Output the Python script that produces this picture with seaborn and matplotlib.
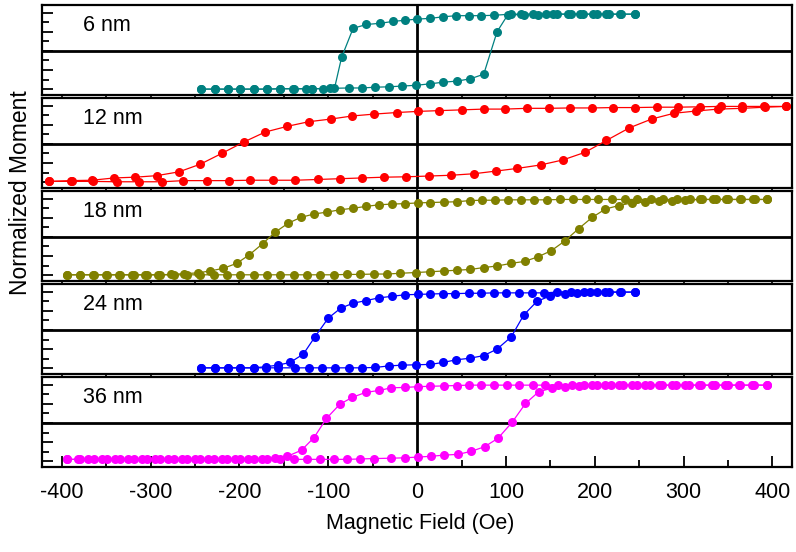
#!/usr/bin/env python3
#===============================================================================
# plot hysteresis loops for several film thicknesses
#===============================================================================

# Imports ======================================================================

import matplotlib
matplotlib.use('Agg')
import matplotlib.pyplot as plt
from matplotlib.ticker import MultipleLocator
import seaborn as sns


# Data =========================================================================

labels = ['6 nm', '12 nm', '18 nm', '24 nm', '36 nm']
colors = ['#008080', '#ff0000', '#808000', '#0000ff', '#ff00ff']

# 6 nm
down_h_6 = [245, 230, 216, 202, 187, 173, 158, 145, 130, 117, 106, 86, 72, 58,
            44, 29, 15, 0, -14, -27, -42, -57, -72, -85, -93, -106, -118, -125,
            -140, -154, -169, -184, -199, -213, -228, -243]
down_m_6 = [0.96, 0.96, 0.96, 0.96, 0.96, 0.96, 0.96, 0.96, 0.96, 0.96, 0.96,
            0.93, 0.92, 0.92, 0.92, 0.89, 0.85, 0.83, 0.80, 0.77, 0.72, 0.69,
            0.59, -0.17, -0.98, -0.99, -0.99, -0.99, -0.99, -0.99, -1.0, -1.0,
            -1.0, -1.0, -1.0, -1.0]
up_h_6 = [-243, -228, -213, -199, -184, -169, -154, -139, -118, -98, -77, -62,
          -47, -32, -17, -1, 15, 29, 45, 60, 75, 90, 102, 120, 136, 153, 170,
          183, 198, 213, 228, 245]
up_m_6 = [-1.0, -1.0, -1.0, -1.0, -1.0, -1.0, -0.99, -0.99, -0.99, -0.98,
          -0.97, -0.97, -0.95, -0.94, -0.92, -0.90, -0.86, -0.82, -0.79, -0.73,
          -0.61, 0.50, 0.94, 0.95, 0.95, 0.96, 0.96, 0.96, 0.96, 0.96, 0.96,
          0.96]

# 12 nm
down_h_12 = [415, 391, 366, 342, 318, 294, 270, 245, 221, 197, 172, 148, 124,
             99, 75, 50, 25, 1, -23, -48, -73, -97, -122, -146, -171, -195,
             -220, -244, -268, -293, -317, -341, -366, -390, -414]
down_m_12 = [0.98, 0.98, 0.98, 0.98, 0.97, 0.96, 0.96, 0.95, 0.95, 0.94, 0.94,
             0.93, 0.93, 0.91, 0.91, 0.89, 0.87, 0.85, 0.82, 0.78, 0.73, 0.65,
             0.58, 0.46, 0.31, 0.05, -0.25, -0.53, -0.73, -0.83, -0.87, -0.89,
             -0.95, -0.96, -0.98]
up_h_12 = [-414, -389, -365, -338, -313, -287, -263, -237, -212, -188, -162,
           -137, -112, -87, -62, -37, -12, 13, 38, 64, 89, 113, 139, 164, 189,
           213, 239, 264, 289, 314, 339, 366, 392, 415]
up_m_12 = [-0.98, -0.98, -0.98, -0.99, -0.99, -0.99, -0.96, -0.96, -0.96,
           -0.95, -0.95, -0.95, -0.93, -0.91, -0.89, -0.87, -0.86, -0.84,
           -0.82, -0.78, -0.71, -0.64, -0.55, -0.42, -0.22, 0.09, 0.42, 0.65,
           0.80, 0.86, 0.91, 0.93, 0.96, 0.98]

# 18 nm
down_h_18 = [394, 380, 365, 350, 336, 321, 307, 292, 277, 263, 248, 234, 219,
             204, 190, 175, 161, 146, 132, 117, 102, 88, 73, 59, 45, 30, 15, 1,
             -14, -28, -43, -57, -72, -87, -101, -116, -131, -145, -160, -174,
             -189, -203, -218, -233, -247, -262, -277, -292, -306, -321, -336,
             -350, -365, -380, -394]
down_m_18 = [0.98, 0.98, 0.98, 0.98, 0.98, 0.98, 0.98, 0.98, 0.98, 0.98, 0.98,
             0.98, 0.98, 0.98, 0.98, 0.98, 0.98, 0.97, 0.97, 0.97, 0.97, 0.96,
             0.96, 0.95, 0.92, 0.91, 0.90, 0.89, 0.87, 0.86, 0.84, 0.80, 0.75,
             0.71, 0.65, 0.60, 0.51, 0.36, 0.12, -0.18, -0.47, -0.69, -0.82,
             -0.89, -0.94, -0.96, -0.98, -0.99, -0.99, -0.99, -0.99, -0.99,
             -0.99, -0.99, -0.99]
up_h_18 = [-394, -379, -364, -349, -334, -319, -304, -289, -274, -259, -244,
           -229, -214, -199, -184, -169, -154, -139, -124, -109, -94, -79, -64,
           -49, -34, -19, -1, 15, 30, 45, 60, 75, 90, 106, 121, 136, 151, 166,
           182, 197, 212, 227, 242, 257, 272, 287, 302, 318, 333, 348, 363, 378,
           394]
up_m_18 = [-0.99, -0.99, -0.99, -0.99, -0.99, -0.99, -0.99, -0.99, -0.99,
           -0.99, -0.99, -0.99, -0.99, -0.99, -0.99, -0.99, -0.99, -0.99, -0.99,
           -0.99, -0.99, -0.98, -0.98, -0.97, -0.97, -0.95, -0.93, -0.91, -0.89,
           -0.87, -0.85, -0.80, -0.76, -0.69, -0.64, -0.52, -0.36, -0.11, 0.22,
           0.51, 0.73, 0.82, 0.89, 0.91, 0.93, 0.95, 0.96, 0.98, 0.98, 0.98,
           0.98, 0.98, 0.98]

# 24 nm
down_h_24 = [245, 230, 216, 202, 188, 173, 158, 143, 129, 115, 100, 86, 72, 58,
             43, 29, 15, 1, -14, -28, -43, -57, -72, -86, -100, -115, -128,
             -143, -157, -170, -184, -199, -213, -228, -243]
down_m_24 = [0.99, 0.99, 0.99, 0.99, 0.99, 0.99, 0.99, 0.97, 0.97, 0.97, 0.97,
             0.97, 0.96, 0.96, 0.95, 0.95, 0.94, 0.93, 0.92, 0.88, 0.84, 0.77,
             0.70, 0.57, 0.31, -0.18, -0.63, -0.85, -0.92, -0.96, -0.99, -0.99,
             -0.99, -0.99, -0.99]
up_h_24 = [-243, -228, -213, -199, -184, -170, -157, -138, -122, -107, -92, -77,
           -62, -47, -32, -17, -1, 15, 29, 44, 59, 75, 90, 106, 120, 135, 150,
           166, 180, 195, 212, 228, 245]
up_m_24 = [-0.99, -0.99, -0.99, -0.99, -0.99, -0.99, -0.99, -0.99, -0.99,
           -0.99, -0.99, -0.99, -0.99, -0.98, -0.94, -0.92, -0.91, -0.90, -0.85,
           -0.78, -0.74, -0.67, -0.50, -0.18, 0.39, 0.75, 0.89, 0.95, 0.97, 0.98,
           0.99, 0.99, 0.99]

# 36 nm
down_h_36 = [394, 379, 364, 350, 335, 320, 306, 291, 276, 262, 247, 232, 218,
             203, 188, 174, 159, 144, 130, 115, 101, 86, 72, 58, 45, 30, 15, 1,
             -14, -29, -43, -58, -73, -87, -102, -116, -130, -146, -160, -175,
             -190, -205, -220, -235, -250, -265, -280, -295, -310, -325, -340,
             -355, -370, -382, -394]
down_m_36 = [0.99, 0.99, 0.99, 0.99, 0.99, 0.99, 0.99, 0.99, 0.99, 0.99, 0.99,
             0.99, 0.99, 0.99, 0.99, 0.99, 0.99, 0.99, 0.99, 0.99, 0.99, 0.99,
             0.99, 0.99, 0.98, 0.97, 0.96, 0.95, 0.93, 0.92, 0.85, 0.80, 0.67,
             0.49, 0.12, -0.38, -0.71, -0.87, -0.91, -0.93, -0.94, -0.95, -0.95,
             -0.95, -0.95, -0.95, -0.95, -0.95, -0.95, -0.95, -0.95, -0.95,
             -0.95, -0.95, -0.95]
up_h_36 = [-394, -379, -364, -349, -334, -319, -304, -289, -274, -259, -244,
           -229, -214, -199, -184, -169, -154, -139, -124, -109, -94, -79, -64,
           -49, -29, -14, 1, 16, 30, 46, 61, 76, 91, 107, 122, 137, 152, 167,
           182, 197, 212, 227, 242, 257, 272, 287, 302, 317, 332, 347, 362, 377,
           394]
up_m_36 = [-0.95, -0.95, -0.95, -0.95, -0.95, -0.95, -0.95, -0.95, -0.95,
           -0.95, -0.95, -0.95, -0.95, -0.95, -0.95, -0.95, -0.95, -0.95, -0.95,
           -0.95, -0.95, -0.95, -0.94, -0.93, -0.92, -0.91, -0.89, -0.87, -0.84,
           -0.82, -0.74, -0.62, -0.40, 0.02, 0.51, 0.82, 0.91, 0.93, 0.98, 0.99,
           0.99, 0.99, 0.99, 0.99, 0.99, 0.99, 0.99, 0.99, 0.99, 0.99, 0.99,
           0.99, 0.99]

x_ticks = [-400, -300, -200, -100, 0, 100, 200, 300, 400]


# Functions ====================================================================

def main():
    sns.set_style('ticks')
    plt.rcParams['font.family'] = ['Liberation Sans', 'DejaVu Sans']
    plt.rcParams['text.color'] = 'black'
    plt.rcParams['xtick.color'] = 'black'
    plt.rcParams['ytick.color'] = 'black'
    plt.rcParams['axes.unicode_minus'] = False

    branches = [
        (down_h_6, down_m_6, up_h_6, up_m_6),
        (down_h_12, down_m_12, up_h_12, up_m_12),
        (down_h_18, down_m_18, up_h_18, up_m_18),
        (down_h_24, down_m_24, up_h_24, up_m_24),
        (down_h_36, down_m_36, up_h_36, up_m_36),
    ]

    fig = plt.figure(figsize=(7.96, 5.52), dpi=100)
    gs = fig.add_gridspec(5, 1, left=0.053, right=0.995, top=0.991,
                          bottom=0.154, hspace=0.035)

    n = len(labels)
    for i in range(n):
        ax = fig.add_subplot(gs[i])
        ax.axhline(0, color='black', lw=2.0, zorder=1)
        ax.axvline(0, color='black', lw=2.0, zorder=1)
        dh, dm, uh, um = branches[i]
        for h, m in ((dh, dm), (uh, um)):
            sns.lineplot(x=h, y=m, sort=False, estimator=None, ax=ax,
                         color=colors[i], marker='o', markersize=6.5,
                         markeredgewidth=0, linewidth=0.9, zorder=3)
        ax.set_xlim(-422, 422)
        ax.set_ylim(-1.15, 1.2)
        ax.set_xticks(x_ticks)
        ax.xaxis.set_minor_locator(MultipleLocator(50))
        ax.yaxis.set_major_locator(MultipleLocator(0.5))
        ax.yaxis.set_minor_locator(MultipleLocator(0.25))
        ax.tick_params(axis='y', which='major', direction='in', length=8,
                       width=1.3, labelleft=False, left=True, right=False)
        ax.tick_params(axis='y', which='minor', direction='in', length=5,
                       width=1.3, left=True, right=False)
        if i < n - 1:
            ax.tick_params(axis='x', which='both', direction='out', length=3,
                           width=1.2, labelbottom=False)
        else:
            ax.tick_params(axis='x', which='major', direction='in', length=8,
                           width=1.3, labelsize=15.5, pad=11)
            ax.tick_params(axis='x', which='minor', direction='in', length=5,
                           width=1.3)
        for s in ax.spines.values():
            s.set_linewidth(1.6)
            s.set_color('black')
        ax.set_xlabel('')
        ax.set_ylabel('')
        ax.text(0.055, 0.77, labels[i], transform=ax.transAxes, fontsize=15.5,
                va='center', ha='left', color='black')

    fig.text(420 / 796, 1 - 523 / 552, 'Magnetic Field (Oe)', fontsize=15.5,
             ha='center', va='center', color='black')
    fig.text(21 / 796, 1 - 193 / 552, 'Normalized Moment', fontsize=16.5,
             ha='center', va='center', rotation=90, color='black')

    fig.savefig('out.png', dpi=100)


# Execute ======================================================================

if __name__ == '__main__':
    main()
